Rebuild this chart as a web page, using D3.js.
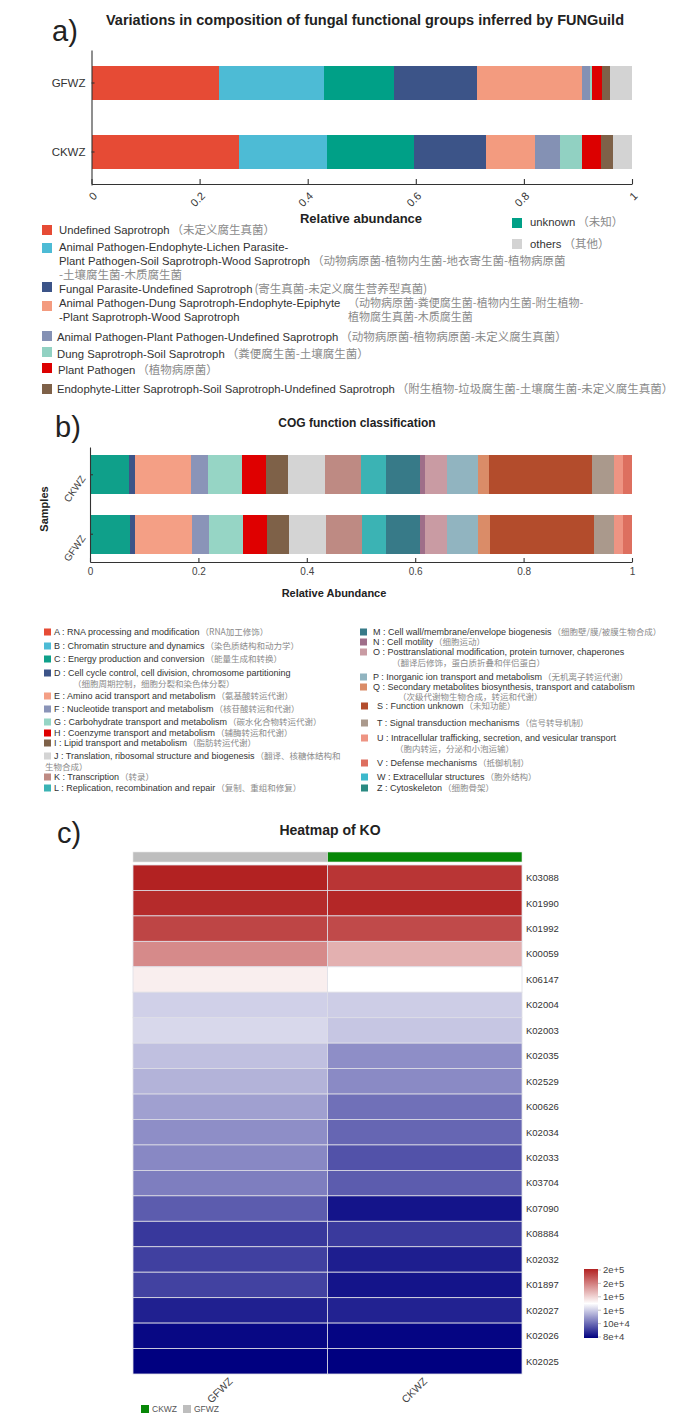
<!DOCTYPE html>
<html><head><meta charset="utf-8">
<script src="https://cdn.jsdelivr.net/npm/d3@7"></script>
<style>
body{margin:0;background:#fff;}
svg{display:block;font-family:"Liberation Sans",Arial,sans-serif;}
.zh{font-family:"Noto Sans CJK SC",sans-serif;fill:#8a8a8a;}
</style>
</head><body>
<svg id="c" width="684" height="1426"></svg>
<script>
// ================= DATA =================
// Panel a : FUNGuild
const fgSamples = ["GFWZ", "CKWZ"];
const fgGroups = ["Undefined Saprotroph",
  "Animal Pathogen-Endophyte-Lichen Parasite-Plant Pathogen-Soil Saprotroph-Wood Saprotroph",
  "unknown",
  "Fungal Parasite-Undefined Saprotroph",
  "Animal Pathogen-Dung Saprotroph-Endophyte-Epiphyte-Plant Saprotroph-Wood Saprotroph",
  "Animal Pathogen-Plant Pathogen-Undefined Saprotroph",
  "Dung Saprotroph-Soil Saprotroph",
  "Plant Pathogen",
  "Endophyte-Litter Saprotroph-Soil Saprotroph-Undefined Saprotroph",
  "others"];
const fgGFWZ = [0.235, 0.196, 0.129, 0.153, 0.195, 0.015, 0.003, 0.019, 0.015, 0.040];
const fgCKWZ = [0.273, 0.162, 0.162, 0.132, 0.092, 0.045, 0.041, 0.036, 0.021, 0.036];
const fgColors = ["#E64B35", "#4DBBD5", "#00A087", "#3C5488", "#F39B7F", "#8491B4", "#91D1C2", "#DC0000", "#7E6148", "#D3D3D3"];
const fgTicks = [0, 0.2, 0.4, 0.6, 0.8, 1];

// Panel b : COG
const cogSamples = ["CKWZ", "GFWZ"];
const cogCodes = ["A","B","C","D","E","F","G","H","I","J","K","L","M","N","O","P","Q","S","T","U","V","W","Z"];
const cogNames = ["RNA processing and modification","Chromatin structure and dynamics","Energy production and conversion",
  "Cell cycle control, cell division, chromosome partitioning","Amino acid transport and metabolism",
  "Nucleotide transport and metabolism","Carbohydrate transport and metabolism","Coenzyme transport and metabolism",
  "Lipid transport and metabolism","Translation, ribosomal structure and biogenesis","Transcription",
  "Replication, recombination and repair","Cell wall/membrane/envelope biogenesis","Cell motility",
  "Posttranslational modification, protein turnover, chaperones","Inorganic ion transport and metabolism",
  "Secondary metabolites biosynthesis, transport and catabolism","Function unknown","Signal transduction mechanisms",
  "Intracellular trafficking, secretion, and vesicular transport","Defense mechanisms","Extracellular structures","Cytoskeleton"];
const cogNamesZh = ["（RNA加工修饰）","（染色质结构和动力学）","（能量生成和转换）","（细胞周期控制，细胞分裂和染色体分裂）",
  "（氨基酸转运代谢）","（核苷酸转运和代谢）","（碳水化合物转运代谢）","（辅酶转运和代谢）","（脂肪转运代谢）",
  "（翻译、核糖体结构和|生物合成）","（转录）","（复制、重组和修复）","（细胞壁/膜/被膜生物合成）","（细胞运动）",
  "（翻译后修饰，蛋白质折叠和伴侣蛋白）","（无机离子转运代谢）","（次级代谢物生物合成，转运和代谢）","（未知功能）",
  "（信号转导机制）","（胞内转运，分泌和小泡运输）","（抵御机制）","（胞外结构）","（细胞骨架）"];
const cogCKWZ = [0, 0, 0.072, 0.011, 0.103, 0.031, 0.063, 0.045, 0.041, 0.068, 0.066, 0.047, 0.061, 0.010, 0.040, 0.058, 0.020, 0.191, 0.040, 0.016, 0.017, 0, 0];
const cogGFWZ = [0, 0, 0.073, 0.010, 0.106, 0.031, 0.062, 0.044, 0.041, 0.068, 0.066, 0.046, 0.061, 0.010, 0.040, 0.058, 0.022, 0.191, 0.038, 0.017, 0.016, 0, 0];
const cogColors = ["#E64B35","#4DBBD5","#0FA08A","#3C5488","#F49F85","#8A94B8","#96D5C5","#DF0000","#7E6148","#D4D4D4",
  "#BE8A83","#3BB3B4","#377A88","#9F6E89","#C99BA3","#91B4C0","#DA8C68","#B34C2C","#AA998C","#EE9483","#DD6F5F","#3DB9CC","#2A8A82"];
const cogTicks = [0, 0.2, 0.4, 0.6, 0.8, 1];

// Panel c : KO heatmap
const koIds = ["K03088","K01990","K01992","K00059","K06147","K02004","K02003","K02035","K02529","K00626",
  "K02034","K02033","K03704","K07090","K08884","K02032","K01897","K02027","K02026","K02025"];
const koSamples = ["GFWZ", "CKWZ"];
const koGFWZ = [180000, 178000, 172000, 156500, 133800, 120800, 122300, 117600, 115100, 111300,
  107800, 106600, 104700, 98000, 91000, 92600, 93000, 86300, 81500, 80000];
const koCKWZ = [175700, 178900, 171000, 147900, 130000, 120200, 118800, 107800, 107000, 101900,
  100000, 96100, 98000, 83900, 91400, 85900, 83900, 86600, 81000, 80000];
const koColorStops = [80000, 130000, 180000];
const koColorRange = ["#000080", "#ffffff", "#B22222"];
const koGroupColors = {GFWZ: "#BEBEBE", CKWZ: "#078707"};
const cbTicks = [80000, 100000, 120000, 140000, 160000, 180000];
const cbLabels = ["8e+4", "10e+4", "1e+5", "1e+5", "2e+5", "2e+5"];

// ================= DRAW =================
const svg = d3.select("#c");
const ink = "#333";

function panelLabel(t, x, y) {
  svg.append("text").attr("x", x).attr("y", y).attr("font-size", 29).attr("fill", "#222").text(t);
}
function styleAxis(g) {
  g.attr("font-family", "Liberation Sans, Arial, sans-serif");
  g.selectAll("path,line").attr("stroke", ink).attr("stroke-width", 1.1);
  g.selectAll("text").attr("fill", ink);
}

// ---------- Panel a ----------
panelLabel("a)", 52, 41);
svg.append("text").attr("x", 365).attr("y", 25).attr("text-anchor", "middle")
  .attr("font-size", 14.5).attr("font-weight", "bold").attr("fill", "#222")
  .text("Variations in composition of fungal functional groups inferred by FUNGuild");

const xA = d3.scaleLinear().domain([0, 1]).range([91.5, 632]);
const yA = d3.scaleBand().domain(fgSamples).range([50, 185]).paddingInner(0.507).paddingOuter(0.232);
const tableA = fgSamples.map((s, si) => {
  const o = {sample: s};
  fgGroups.forEach((g, gi) => o[g] = (si === 0 ? fgGFWZ : fgCKWZ)[gi]);
  return o;
});
const stackA = d3.stack().keys(fgGroups)(tableA);
svg.append("g").selectAll("g").data(stackA).join("g").attr("fill", (d, i) => fgColors[i])
  .selectAll("rect").data(d => d).join("rect")
  .attr("x", d => xA(d[0])).attr("width", d => Math.max(0, xA(d[1]) - xA(d[0])))
  .attr("y", d => yA(d.data.sample)).attr("height", yA.bandwidth())
  .attr("shape-rendering", "crispEdges");

const gxA = svg.append("g").attr("transform", "translate(0,184)")
  .call(d3.axisBottom(xA).tickValues(fgTicks).tickSize(-5).tickSizeOuter(0).tickFormat(d3.format("~g")));
styleAxis(gxA);
gxA.selectAll("text").attr("y", 0).attr("dy", "0.35em").attr("text-anchor", "end")
  .attr("font-size", 11).attr("transform", "translate(3,10) rotate(-45)");
const gyA = svg.append("g").attr("transform", `translate(${xA(0)},0)`)
  .call(d3.axisLeft(yA).tickSize(-3).tickSizeOuter(0).tickPadding(6));
styleAxis(gyA);
gyA.selectAll("text").attr("font-size", 11.5);

svg.append("text").attr("x", 361).attr("y", 223).attr("text-anchor", "middle")
  .attr("font-size", 13).attr("font-weight", "bold").attr("fill", "#222").text("Relative abundance");

// legend a
const legA = [
  {i: 0, sx: 42, sy: 230, lines: [{x: 59, y: 230, en: "Undefined Saprotroph", zh: "（未定义腐生真菌）"}]},
  {i: 1, sx: 42, sy: 248, lines: [{x: 59, y: 247, en: "Animal Pathogen-Endophyte-Lichen Parasite-"},
    {x: 59, y: 261, en: "Plant Pathogen-Soil Saprotroph-Wood Saprotroph", zh: "（动物病原菌-植物内生菌-地衣寄生菌-植物病原菌"},
    {x: 59, y: 275, zh: "-土壤腐生菌-木质腐生菌"}]},
  {i: 3, sx: 42, sy: 287, lines: [{x: 59, y: 289, en: "Fungal Parasite-Undefined Saprotroph", zh: "(寄生真菌-未定义腐生营养型真菌)"}]},
  {i: 4, sx: 42, sy: 306, lines: [{x: 59, y: 303, en: "Animal Pathogen-Dung Saprotroph-Endophyte-Epiphyte", zh: "（动物病原菌-粪便腐生菌-植物内生菌-附生植物-", zx: 348, zs: 11},
    {x: 59, y: 317.5, en: "-Plant Saprotroph-Wood Saprotroph", zh: "植物腐生真菌-木质腐生菌", zx: 348, zs: 11}]},
  {i: 5, sx: 42, sy: 336, lines: [{x: 57, y: 337, en: "Animal Pathogen-Plant Pathogen-Undefined Saprotroph", zh: "（动物病原菌-植物病原菌-未定义腐生真菌）"}]},
  {i: 6, sx: 42, sy: 352, lines: [{x: 57, y: 354, en: "Dung Saprotroph-Soil Saprotroph", zh: "（粪便腐生菌-土壤腐生菌）"}]},
  {i: 7, sx: 42, sy: 368, lines: [{x: 58, y: 370, en: "Plant Pathogen", zh: "（植物病原菌）"}]},
  {i: 8, sx: 42, sy: 389, lines: [{x: 57, y: 389, en: "Endophyte-Litter Saprotroph-Soil Saprotroph-Undefined Saprotroph", zh: "（附生植物-垃圾腐生菌-土壤腐生菌-未定义腐生真菌）"}]},
  {i: 2, sx: 512, sy: 223, lines: [{x: 530, y: 222, en: "unknown", zh: "（未知）"}]},
  {i: 9, sx: 512, sy: 244, lines: [{x: 530, y: 244, en: "others", zh: "（其他）"}]}
];
const gLA = svg.append("g");
legA.forEach(it => {
  gLA.append("rect").attr("x", it.sx).attr("y", it.sy - 5).attr("width", 10).attr("height", 10).attr("fill", fgColors[it.i]);
  it.lines.forEach(l => {
    const t = gLA.append("text").attr("x", l.x).attr("y", l.y).attr("dy", "0.35em").attr("font-size", 11.3).attr("fill", ink);
    if (l.en) t.append("tspan").text(l.en);
    if (l.zh) {
      const z = t.append("tspan").attr("class", "zh").attr("font-size", l.zs || 11.5).text(l.zh);
      if (l.zx) z.attr("x", l.zx); else if (l.en) z.attr("dx", 2);
    }
  });
});

// ---------- Panel b ----------
panelLabel("b)", 55, 437);
svg.append("text").attr("x", 357).attr("y", 427).attr("text-anchor", "middle")
  .attr("font-size", 12).attr("font-weight", "bold").attr("fill", "#222").text("COG function classification");

const xB = d3.scaleLinear().domain([0, 1]).range([90, 632]);
const yB = d3.scaleBand().domain(cogSamples).range([447, 562]).paddingInner(0.339).paddingOuter(0.136);
const tableB = cogSamples.map((s, si) => {
  const o = {sample: s};
  cogCodes.forEach((c, ci) => o[c] = (si === 0 ? cogCKWZ : cogGFWZ)[ci]);
  return o;
});
const stackB = d3.stack().keys(cogCodes)(tableB);
svg.append("g").selectAll("g").data(stackB).join("g").attr("fill", (d, i) => cogColors[i])
  .selectAll("rect").data(d => d).join("rect")
  .attr("x", d => xB(d[0])).attr("width", d => Math.max(0, xB(d[1]) - xB(d[0])))
  .attr("y", d => yB(d.data.sample)).attr("height", yB.bandwidth())
  .attr("shape-rendering", "crispEdges");

const gxB = svg.append("g").attr("transform", "translate(0,562)")
  .call(d3.axisBottom(xB).tickValues(cogTicks).tickSize(-4).tickSizeOuter(0).tickPadding(6).tickFormat(d3.format("~g")));
styleAxis(gxB);
gxB.selectAll("text").attr("font-size", 10).attr("fill", "#444");
const gyB = svg.append("g").attr("transform", `translate(${xB(0)},0)`)
  .call(d3.axisLeft(yB).tickSize(-3).tickSizeOuter(0));
styleAxis(gyB);
gyB.selectAll("text").attr("x", 0).attr("dy", 0).attr("text-anchor", "end").attr("font-size", 10).attr("fill", "#444")
  .attr("transform", "translate(-4,4) rotate(-55)");

svg.append("text").attr("transform", "translate(48,509) rotate(-90)").attr("text-anchor", "middle")
  .attr("font-size", 11).attr("font-weight", "bold").attr("fill", "#222").text("Samples");
svg.append("text").attr("x", 334).attr("y", 597).attr("text-anchor", "middle")
  .attr("font-size", 11).attr("font-weight", "bold").attr("fill", "#222").text("Relative Abundance");

// legend b (layout per entry: column, y of main line, y and x of wrapped Chinese line)
const legBLayout = {
  A: {c: 0, y: 632}, B: {c: 0, y: 646}, C: {c: 0, y: 659}, D: {c: 0, y: 673, wy: 684, wx: 73},
  E: {c: 0, y: 696}, F: {c: 0, y: 709}, G: {c: 0, y: 722}, H: {c: 0, y: 733}, I: {c: 0, y: 743},
  J: {c: 0, y: 756, wy: 767, wx: 45, split: true}, K: {c: 0, y: 777}, L: {c: 0, y: 788},
  M: {c: 1, y: 632}, N: {c: 1, y: 642}, O: {c: 1, y: 652, wy: 663, wx: 392}, P: {c: 1, y: 677},
  Q: {c: 1, y: 687, wy: 697, wx: 398}, S: {c: 2, y: 706}, T: {c: 2, y: 723},
  U: {c: 2, y: 738, wy: 749, wx: 395}, V: {c: 2, y: 763}, W: {c: 2, y: 777}, Z: {c: 2, y: 788}
};
const colX = [{s: 44, t: 54}, {s: 360, t: 373}, {s: 361, t: 377}];
const gLB = svg.append("g");
const enSize = 9, zhSize = 8.5;
cogCodes.forEach((code, i) => {
  const L = legBLayout[code], cx = colX[L.c];
  gLB.append("rect").attr("x", cx.s).attr("y", L.y - 3.5).attr("width", 7).attr("height", 7).attr("fill", cogColors[i]);
  const t = gLB.append("text").attr("x", cx.t).attr("y", L.y).attr("dy", "0.35em").attr("font-size", enSize).attr("fill", ink);
  t.append("tspan").text(`${code} : ${cogNames[i]}`);
  const zh = cogNamesZh[i];
  if (L.split) {
    const parts = zh.split("|");
    t.append("tspan").attr("class", "zh").attr("font-size", zhSize).attr("dx", 1).text(parts[0]);
    gLB.append("text").attr("class", "zh").attr("x", L.wx).attr("y", L.wy).attr("dy", "0.35em").attr("font-size", zhSize).text(parts[1]);
  } else if (L.wy) {
    gLB.append("text").attr("class", "zh").attr("x", L.wx).attr("y", L.wy).attr("dy", "0.35em").attr("font-size", zhSize).text(zh);
  } else {
    t.append("tspan").attr("class", "zh").attr("font-size", zhSize).attr("dx", 1).text(zh);
  }
});

// ---------- Panel c ----------
panelLabel("c)", 57, 843);
svg.append("text").attr("x", 330).attr("y", 835).attr("text-anchor", "middle")
  .attr("font-size", 14).attr("font-weight", "bold").attr("fill", "#222").text("Heatmap of KO");

const xH = d3.scaleBand().domain(koSamples).range([133, 522]);
const yH = d3.scaleBand().domain(koIds).range([865, 1374]);
const colorH = d3.scaleLinear().domain(koColorStops).range(koColorRange);
const cells = [];
koIds.forEach((k, ri) => {
  cells.push({ko: k, s: "GFWZ", v: koGFWZ[ri]});
  cells.push({ko: k, s: "CKWZ", v: koCKWZ[ri]});
});
svg.append("g").selectAll("rect").data(cells).join("rect")
  .attr("x", d => xH(d.s)).attr("y", d => yH(d.ko))
  .attr("width", xH.bandwidth()).attr("height", yH.bandwidth())
  .attr("fill", d => colorH(d.v)).attr("stroke", "#dedee6").attr("stroke-width", 0.8);

// annotation bar
svg.append("g").selectAll("rect").data(koSamples).join("rect")
  .attr("x", d => xH(d)).attr("y", 852).attr("width", xH.bandwidth()).attr("height", 10)
  .attr("fill", d => koGroupColors[d]).attr("stroke", "#e8e8e8").attr("stroke-width", 0.6);

// row labels
svg.append("g").selectAll("text").data(koIds).join("text")
  .attr("x", 526).attr("y", d => yH(d) + yH.bandwidth() / 2).attr("dy", "0.35em")
  .attr("font-size", 9.5).attr("fill", ink).text(d => d);

// column labels
svg.append("g").selectAll("text").data(koSamples).join("text")
  .attr("text-anchor", "end").attr("font-size", 10.5).attr("fill", "#444")
  .attr("transform", d => `translate(${xH(d) + xH.bandwidth() / 2 + 3},${1382}) rotate(-45)`)
  .text(d => d);

// group legend
const glegOrder = ["CKWZ", "GFWZ"];
const glegX = [141, 183];
glegOrder.forEach((g, i) => {
  svg.append("rect").attr("x", glegX[i]).attr("y", 1405).attr("width", 8).attr("height", 8).attr("fill", koGroupColors[g]);
  svg.append("text").attr("x", glegX[i] + 11).attr("y", 1409).attr("dy", "0.35em").attr("font-size", 8.5).attr("fill", "#555").text(g);
});

// colour bar
const cbY = d3.scaleLinear().domain([cbTicks[0], cbTicks[cbTicks.length - 1]]).range([1337, 1270]);
const defs = svg.append("defs");
const grad = defs.append("linearGradient").attr("id", "cbg").attr("x1", 0).attr("y1", 1).attr("x2", 0).attr("y2", 0);
d3.range(0, 1.0001, 0.05).forEach(t => {
  const v = cbTicks[0] + t * (cbTicks[cbTicks.length - 1] - cbTicks[0]);
  grad.append("stop").attr("offset", t).attr("stop-color", colorH(v));
});
svg.append("rect").attr("x", 584).attr("y", cbY.range()[1] - 1).attr("width", 14)
  .attr("height", cbY.range()[0] - cbY.range()[1] + 2).attr("fill", "url(#cbg)");
const gcb = svg.append("g");
cbTicks.forEach((v, i) => {
  gcb.append("line").attr("x1", 598).attr("x2", 601).attr("y1", cbY(v)).attr("y2", cbY(v)).attr("stroke", "#999").attr("stroke-width", 0.6);
  gcb.append("text").attr("x", 603).attr("y", cbY(v)).attr("dy", "0.35em").attr("font-size", 9.5).attr("fill", "#444").text(cbLabels[i]);
});
</script>
</body></html>
